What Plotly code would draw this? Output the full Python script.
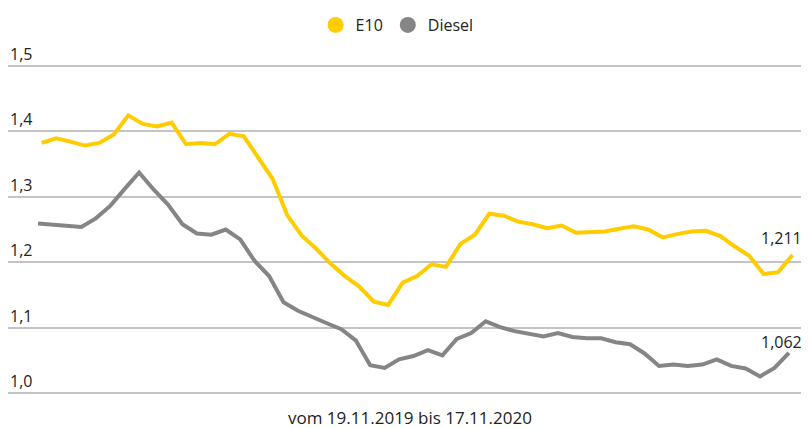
import plotly.graph_objects as go

weeks = list(range(53))

e10 = [1.382, 1.389, 1.384, 1.378, 1.382, 1.395, 1.424, 1.411, 1.407, 1.413,
       1.380, 1.382, 1.380, 1.396, 1.392, 1.359, 1.327, 1.272, 1.241, 1.221,
       1.198, 1.179, 1.163, 1.140, 1.135, 1.169, 1.179, 1.197, 1.193, 1.228,
       1.242, 1.274, 1.271, 1.262, 1.258, 1.252, 1.256, 1.245, 1.246, 1.247,
       1.251, 1.255, 1.250, 1.238, 1.243, 1.247, 1.248, 1.240, 1.224, 1.210,
       1.182, 1.185, 1.211]

diesel = [1.259, 1.257, 1.256, 1.254, 1.267, 1.286, 1.312, 1.337, 1.311, 1.288,
          1.258, 1.244, 1.242, 1.250, 1.235, 1.202, 1.179, 1.139, 1.126, 1.116,
          1.107, 1.098, 1.081, 1.043, 1.039, 1.052, 1.057, 1.066, 1.058, 1.083,
          1.092, 1.110, 1.101, 1.095, 1.091, 1.087, 1.092, 1.086, 1.084, 1.084,
          1.078, 1.075, 1.061, 1.042, 1.044, 1.042, 1.044, 1.052, 1.042, 1.038,
          1.026, 1.039, 1.062]

tick_vals = [1.0, 1.1, 1.2, 1.3, 1.4, 1.5]
tick_text = ["1,0", "1,1", "1,2", "1,3", "1,4", "1,5"]

series_names = ["E10", "Diesel"]
end_labels = ["1,211", "1,062"]
x_caption = "vom 19.11.2019 bis 17.11.2020"

YELLOW = "#FFCC00"
GREY = "#858585"
TEXT = "#222222"
FONT = "Open Sans"

diesel_x = [w - 0.25 for w in weeks]

fig = go.Figure()
fig.add_trace(go.Scatter(x=weeks, y=e10, mode="lines", line=dict(color=YELLOW, width=4),
                         showlegend=False, hoverinfo="skip"))
fig.add_trace(go.Scatter(x=diesel_x, y=diesel, mode="lines", line=dict(color=GREY, width=4),
                         showlegend=False, hoverinfo="skip"))
# legend entries as circles
for name, col in zip(series_names, [YELLOW, GREY]):
    fig.add_trace(go.Scatter(x=[None], y=[None], mode="markers", name=name,
                             marker=dict(color=col, size=18, symbol="circle")))

annotations = []
for v, t in zip(tick_vals, tick_text):
    annotations.append(dict(x=0, xref="paper", xanchor="left", y=v, yref="y",
                            yanchor="bottom", yshift=-1, text=t, showarrow=False,
                            font=dict(family=FONT, size=16, color=TEXT)))
annotations.append(dict(x=weeks[-1], y=e10[-1], xref="x", yref="y", xanchor="right",
                        yanchor="middle", xshift=11, yshift=17, text=end_labels[0],
                        showarrow=False, font=dict(family=FONT, size=16, color=TEXT)))
annotations.append(dict(x=diesel_x[-1], y=diesel[-1], xref="x", yref="y", xanchor="right",
                        yanchor="middle", xshift=15, yshift=11, text=end_labels[1],
                        showarrow=False, font=dict(family=FONT, size=16, color=TEXT)))
annotations.append(dict(x=0.503, xref="paper", y=-0.05, yref="paper", xanchor="center",
                        yanchor="middle", text=x_caption, showarrow=False,
                        font=dict(family=FONT, size=17, color=TEXT)))

# the page body adds an 8px offset, so the figure is sized to the visible area
fig.update_layout(
    width=801, height=420,
    margin=dict(l=0, r=2, t=50, b=28),
    paper_bgcolor="white", plot_bgcolor="white",
    font=dict(family=FONT, size=16, color=TEXT),
    xaxis=dict(range=[-2.33, 53.0], visible=False, fixedrange=True),
    yaxis=dict(range=[0.99, 1.51], tickvals=tick_vals, showticklabels=False,
               showgrid=True, gridcolor="#c4c4c4", gridwidth=1.5, zeroline=False,
               showline=False, ticks="", fixedrange=True),
    legend=dict(orientation="h", x=0.487, xanchor="center", y=1.099, yanchor="middle",
                font=dict(family=FONT, size=16, color=TEXT), itemwidth=30,
                bgcolor="rgba(0,0,0,0)"),
    annotations=annotations,
)

fig.write_html("out.html")
